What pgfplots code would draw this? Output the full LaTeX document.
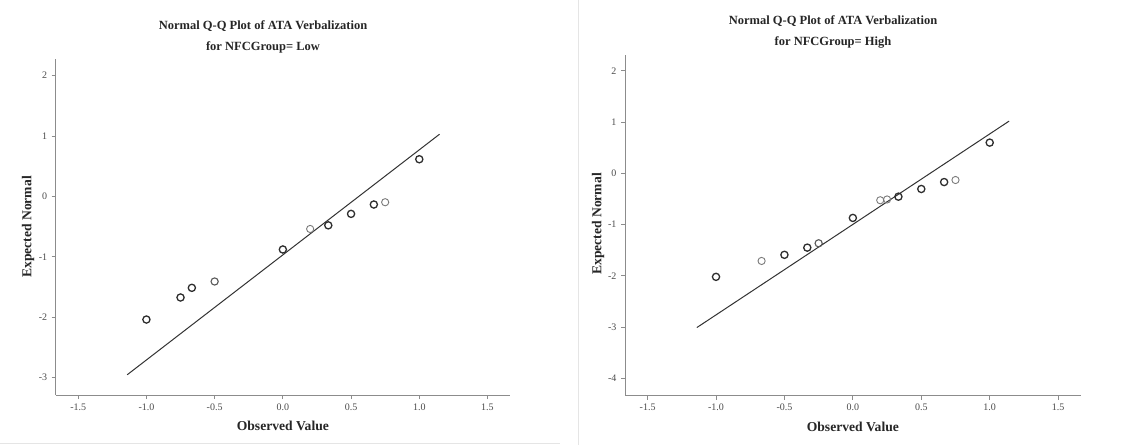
\documentclass[border=0pt]{standalone}
\usepackage{fontspec}
\setmainfont{Liberation Serif}
\usepackage{pgfplots}
\pgfplotsset{compat=1.18}

\definecolor{axgray}{HTML}{8C8C8C}
\definecolor{darkpt}{HTML}{2E2E2E}
\definecolor{lightpt}{HTML}{7A7A7A}
\definecolor{fitline}{HTML}{333333}

\tikzset{
  titlefont/.style={font=\bfseries\fontsize{12.5}{14}\selectfont, text=black!85},
  labelfont/.style={font=\bfseries\fontsize{13.6}{16}\selectfont, text=black!85},
}

\pgfplotsset{
  qqaxis/.style={
    scale only axis,
    anchor=south west,
    axis x line*=bottom,
    axis y line*=left,
    axis line style={axgray,-,line width=0.8pt},
    tick style={axgray,line width=0.8pt},
    tick align=outside,
    major tick length=4pt,
    xmin=-1.665, xmax=1.665,
    xtick={-1.5,-1,-0.5,0,0.5,1,1.5},
    xticklabels={-1.5,-1.0,-0.5,0.0,0.5,1.0,1.5},
    ticklabel style={font=\fontsize{10}{12}\selectfont, text=black!70},
    xticklabel style={yshift=-1pt},
    yticklabel style={xshift=-1pt},
    clip=false,
    xlabel={Observed Value},
    label style={labelfont},
    xlabel style={at={(rel axis cs:0.5,0)}, anchor=center, yshift=-31pt},
  },
  darkmark/.style={only marks, mark=o, mark size=3.6pt,
    mark options={draw=darkpt, line width=1.3pt}},
  lightmark/.style={only marks, mark=o, mark size=3.6pt,
    mark options={draw=lightpt, line width=0.9pt}},
  fitstyle/.style={fitline, line width=1pt, no marks},
}

\begin{document}
\begin{tikzpicture}
\useasboundingbox (0pt,0pt) rectangle (1126pt,445pt);
\fill[white] (0pt,0pt) rectangle (1126pt,445pt);
% faint frame edges of the two panels
\draw[black!10, line width=1pt] (0pt,1.5pt) -- (560pt,1.5pt);
\draw[black!10, line width=1pt] (578pt,0pt) -- (578pt,445pt);

% ---------- NFCGroup = Low ----------
\begin{axis}[qqaxis,
  at={(55.7pt,50pt)}, width=454.3pt, height=335.7pt,
  ymin=-3.29, ymax=2.27,
  ytick={-3,-2,-1,0,1,2},
  yticklabels={-3,-2,-1,0,1,2},
]
\addplot[fitstyle] coordinates {(-1.141,-2.955) (1.149,1.03)};
\addplot[darkmark] coordinates {
  (-1.0,-2.04) (-0.75,-1.675) (-0.667,-1.515) (0,-0.88)
  (0.333,-0.48) (0.5,-0.29) (0.667,-0.135) (1.0,0.615)};
\addplot[lightmark, mark options={draw=black!65,line width=1.1pt}] coordinates {(-0.5,-1.41)};
\addplot[lightmark] coordinates {(0.2,-0.54) (0.75,-0.097)};
\end{axis}
\node[titlefont] at (263pt,419pt) {Normal Q-Q Plot of ATA Verbalization};
\node[titlefont] at (263pt,397.3pt) {for NFCGroup= Low};
\node[labelfont, rotate=90] at (28pt,218pt) {Expected Normal};

% ---------- NFCGroup = High ----------
\begin{axis}[qqaxis,
  at={(625pt,49.3pt)}, width=455.7pt, height=340.7pt,
  ymin=-4.34, ymax=2.31,
  ytick={-4,-3,-2,-1,0,1,2},
  yticklabels={-4,-3,-2,-1,0,1,2},
]
\addplot[fitstyle] coordinates {(-1.14,-3.01) (1.142,1.02)};
\addplot[darkmark] coordinates {
  (-1.0,-2.02) (-0.5,-1.59) (-0.333,-1.45) (0,-0.87)
  (0.333,-0.455) (0.5,-0.305) (0.667,-0.17) (1.0,0.60)};
\addplot[lightmark, mark options={draw=black!65,line width=1.1pt}] coordinates {(-0.25,-1.365)};
\addplot[lightmark] coordinates {(-0.667,-1.71) (0.2,-0.525) (0.25,-0.51) (0.75,-0.13)};
\end{axis}
\node[titlefont] at (833pt,424pt) {Normal Q-Q Plot of ATA Verbalization};
\node[titlefont] at (833pt,402.3pt) {for NFCGroup= High};
\node[labelfont, rotate=90] at (598pt,221pt) {Expected Normal};
\end{tikzpicture}
\end{document}
